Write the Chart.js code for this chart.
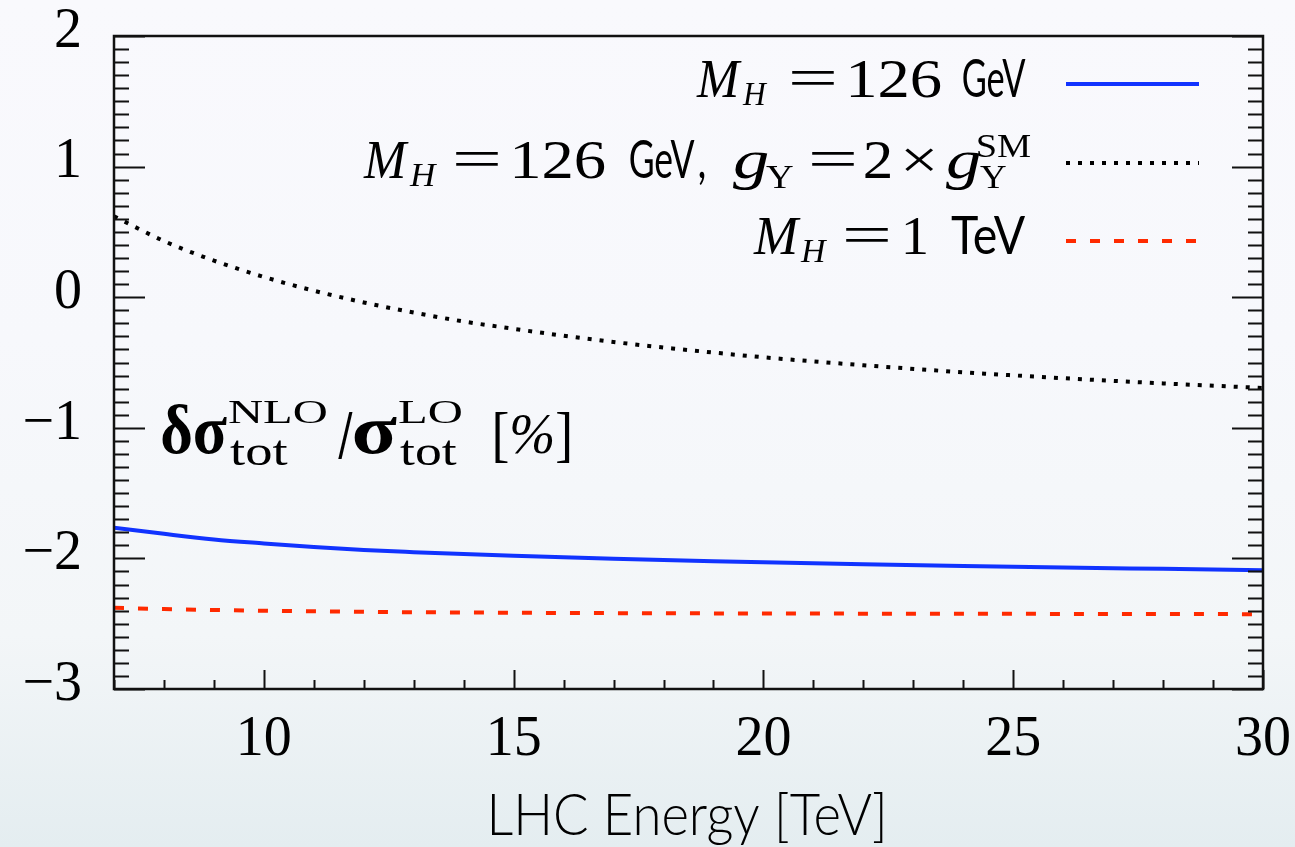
<!DOCTYPE html>
<html><head><meta charset="utf-8">
<script src="https://cdn.jsdelivr.net/npm/chart.js@4.4.1/dist/chart.umd.min.js"></script>
<style>
html,body{margin:0;padding:0;width:1295px;height:847px;overflow:hidden;
background:linear-gradient(to bottom,#f9f9fd 0%,#f7f8fc 40%,#f3f6f8 75%,#e4edf0 100%);}
canvas{display:block}
</style></head><body>
<canvas id="c" width="1295" height="847"></canvas>
<script>
// ---- data ----
const energies = [7,8,9,10,11,12,13,14,15,16,17,18,19,20,22,24,26,28,30];
const deltaMH126 = [-1.765,-1.812,-1.855,-1.885,-1.912,-1.935,-1.952,-1.967,-1.980,-1.992,-2.003,-2.013,-2.022,-2.030,-2.045,-2.058,-2.070,-2.080,-2.090];
const deltaMH126Yuk2 = [0.62,0.43,0.28,0.155,0.05,-0.04,-0.118,-0.186,-0.242,-0.295,-0.343,-0.385,-0.424,-0.46,-0.521,-0.575,-0.62,-0.66,-0.695];
const deltaMH1TeV = [-2.378,-2.388,-2.395,-2.401,-2.405,-2.409,-2.412,-2.414,-2.416,-2.418,-2.419,-2.420,-2.421,-2.422,-2.423,-2.424,-2.425,-2.426,-2.427];
const xTicks = [10,15,20,25,30];
const yTicks = [2,1,0,-1,-2,-3];
const xRange = [7,30];
const yRange = [-3,2];
const seriesNames = ['M_H = 126 GeV','M_H = 126 GeV, g_Y = 2 \u00d7 g_Y^SM','M_H = 1 TeV'];
const xTitle = 'LHC Energy [TeV]';

// ---- style ----
const SERIF = '"Liberation Serif","Times New Roman",serif';
const SANS = 'Lato,"DejaVu Sans",sans-serif';
const COLORS = ['#1133ff','#000000','#ff2a00'];
const DASHES = [[],[4,8],[10,14]];

const pts = arr => energies.map((e,i)=>({x:e,y:arr[i]}));
const fmt = v => v < 0 ? '\u2212' + Math.abs(v) : String(v);

function fitText(ctx, t, font, x0, x1, y){
  ctx.font = font;
  const m = ctx.measureText(t);
  const L = m.actualBoundingBoxLeft, R = m.actualBoundingBoxRight;
  const s = (x1-x0)/(L+R);
  ctx.save();
  ctx.translate(x0 + L*s, y);
  ctx.scale(s,1);
  ctx.textAlign='left'; ctx.textBaseline='alphabetic'; ctx.fillStyle='#000';
  ctx.fillText(t,0,0);
  ctx.restore();
}

const framePlugin = {
  id:'frame',
  afterDatasetsDraw(chart){
    const ctx = chart.ctx, {left,right,top,bottom} = chart.chartArea;
    const xs = chart.scales.x, ys = chart.scales.y;
    ctx.save();
    ctx.strokeStyle='#111'; ctx.lineWidth=2; ctx.setLineDash([]);
    ctx.beginPath();
    for(let i=0;i<=50;i++){
      const v = yRange[0] + i*0.1;
      const y = Math.round(ys.getPixelForValue(v))+0.5;
      const len = (i%10===0)?31:15;
      ctx.moveTo(left,y); ctx.lineTo(left+len,y);
      ctx.moveTo(right,y); ctx.lineTo(right-len,y);
    }
    for(let e=xRange[0]; e<=xRange[1]; e++){
      const x = Math.round(xs.getPixelForValue(e))+0.5;
      const len = (e%5===0)?19:9;
      ctx.moveTo(x,bottom); ctx.lineTo(x,bottom-len);
    }
    ctx.stroke();
    ctx.lineWidth=2.5;
    ctx.strokeRect(left,top,right-left,bottom-top);
    ctx.restore();
  }
};

const textPlugin = {
  id:'texts',
  afterDraw(chart){
    const ctx = chart.ctx;
    ctx.save();
    // legend samples
    const sy = [84,163,241];
    for(let i=0;i<3;i++){
      ctx.beginPath();
      ctx.strokeStyle=COLORS[i]; ctx.lineWidth=4; ctx.lineCap='butt';
      ctx.setLineDash(DASHES[i]);
      ctx.moveTo(1066,sy[i]); ctx.lineTo(1199,sy[i]); ctx.stroke();
    }
    ctx.setLineDash([]);
    const MI = 'italic 54px '+SERIF, MR = '54px '+SERIF, SI = 'italic 34px '+SERIF, SR = '34px '+SERIF, SS = '52px '+SANS;
    // line 1
    let b = 97;
    fitText(ctx,'M',MI,696,742,b);
    fitText(ctx,'H',SI,742,768,b+8);
    fitText(ctx,'=',MR,791,834,b-1);
    fitText(ctx,'126',MR,850,941,b);
    fitText(ctx,'GeV',SS,963,1026,b);
    // line 2
    b = 178;
    fitText(ctx,'M',MI,363,409,b);
    fitText(ctx,'H',SI,409,438,b+8);
    fitText(ctx,'=',MR,455,498,b-1);
    fitText(ctx,'126',MR,514,605,b);
    fitText(ctx,'GeV',SS,630,695,b);
    fitText(ctx,',',SS,699,705,b);
    fitText(ctx,'g',MI,733,768,b);
    fitText(ctx,'Y',SR,766,793,b+10);
    fitText(ctx,'=',MR,811,854,b-1);
    fitText(ctx,'2',MR,865,891,b);
    fitText(ctx,'\u00d7',MR,905,934,b);
    fitText(ctx,'g',MI,946,980,b);
    fitText(ctx,'SM',SR,978,1031,b-21);
    fitText(ctx,'Y',SR,980,1006,b+10);
    // line 3
    b = 254;
    fitText(ctx,'M',MI,753,801,b);
    fitText(ctx,'H',SI,800,828,b+8);
    fitText(ctx,'=',MR,845,888,b-1);
    fitText(ctx,'1',MR,905,926,b);
    fitText(ctx,'TeV',SS,951,1026,b);
    // y label inside plot
    const GB = 'bold 70px '+SERIF, SUP = '34px '+SERIF, SUB = '42px '+SERIF;
    fitText(ctx,'\u03b4\u03c3',GB,162,227,453);
    fitText(ctx,'NLO',SUP,228,327,423);
    fitText(ctx,'tot',SUB,230,288,465);
    fitText(ctx,'/',GB,338,353,458);
    fitText(ctx,'\u03c3',GB,354,397,453);
    fitText(ctx,'LO',SUP,398,462,423);
    fitText(ctx,'tot',SUB,400,457,465);
    fitText(ctx,'[',  '62px '+SERIF,495,508,455);
    fitText(ctx,'%', 'italic 58px '+SERIF,512,552,453);
    fitText(ctx,']',  '62px '+SERIF,557,570,455);
    // x title
    fitText(ctx,xTitle,'300 58px '+SANS,492,883,835);
    ctx.restore();
  }
};

new Chart(document.getElementById('c'),{
  type:'line',
  data:{datasets:[0,1,2].map(i=>({
    label: seriesNames[i],
    data: pts([deltaMH126,deltaMH126Yuk2,deltaMH1TeV][i]),
    borderColor: COLORS[i], borderWidth:4, borderDash: DASHES[i], borderCapStyle:'butt',
    pointRadius:0, fill:false, cubicInterpolationMode:'monotone'
  }))},
  options:{
    responsive:false, animation:false, devicePixelRatio:1,
    layout:{padding:{top:36,right:32,left:0,bottom:0}},
    plugins:{legend:{display:false},tooltip:{enabled:false}},
    scales:{
      x:{type:'linear',min:xRange[0],max:xRange[1],
        grid:{display:false,drawTicks:false},border:{display:false},
        ticks:{font:{family:SERIF,size:56},color:'#000',padding:18,autoSkip:false,maxRotation:0,minRotation:0,callback:v=>fmt(v)},
        afterBuildTicks:s=>{s.ticks = xTicks.map(v=>({value:v}));},
        afterFit:s=>{s.height=158; s.paddingLeft=0; s.paddingRight=0;}},
      y:{type:'linear',min:yRange[0],max:yRange[1],
        grid:{display:false,drawTicks:false},border:{display:false},
        ticks:{font:{family:SERIF,size:56},color:'#000',padding:32,autoSkip:false,labelOffset:-4,callback:v=>fmt(v)},
        afterBuildTicks:s=>{s.ticks = yTicks.map(v=>({value:v}));},
        afterFit:s=>{s.width=114; s.paddingTop=0; s.paddingBottom=0;}}
    }
  },
  plugins:[framePlugin,textPlugin]
});
</script>
</body></html>
